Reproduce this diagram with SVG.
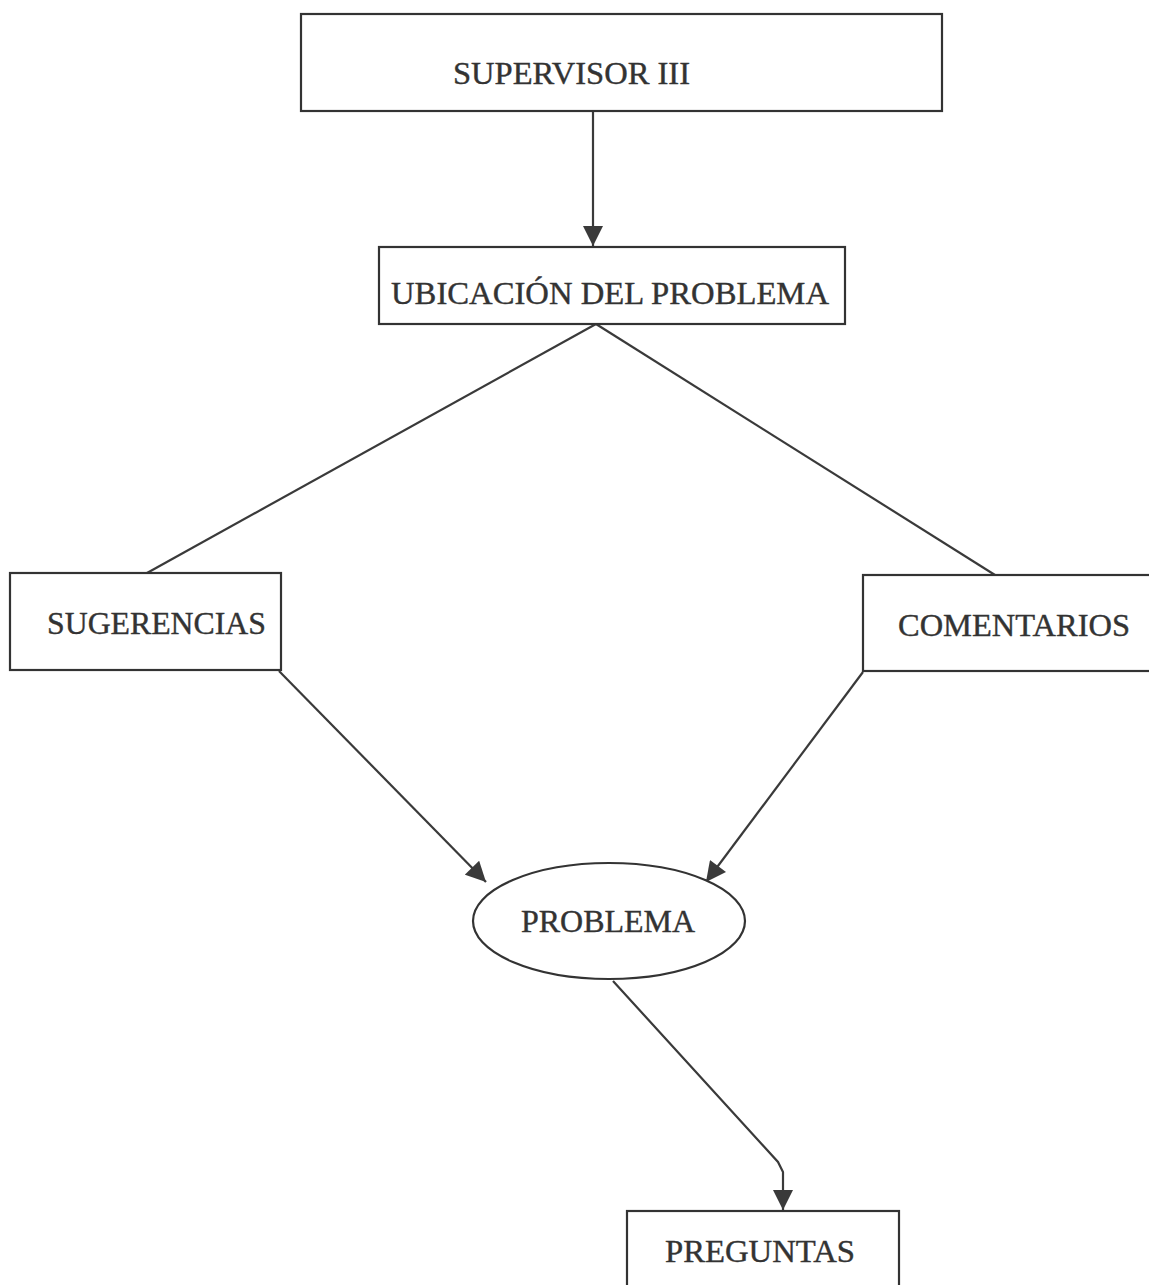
<svg xmlns="http://www.w3.org/2000/svg" width="1149" height="1285" viewBox="0 0 1149 1285">
<style>
.box{fill:#fff;stroke:#333;stroke-width:2.2}
.lbl{font-family:"Liberation Serif","Times New Roman",serif;font-size:32px;fill:#333;stroke:#333;stroke-width:0.4}
.con{fill:none;stroke:#3a3a3a;stroke-width:2.2}
</style>
<defs>
<marker id="ahb" viewBox="0 0 10 10" refX="10" refY="5" markerWidth="22" markerHeight="20" markerUnits="userSpaceOnUse" orient="auto">
<path d="M0,0 L10,5 L0,10 z" fill="#3a3a3a"/>
</marker>
</defs>
<rect width="1149" height="1285" fill="#fff"/>
<g id="connectors">
<line class="con" x1="593" y1="111" x2="593" y2="246" marker-end="url(#ahb)"/>
<line class="con" x1="596" y1="324" x2="147" y2="573"/>
<line class="con" x1="596" y1="324" x2="995" y2="575"/>
<line class="con" x1="279" y1="671" x2="486" y2="882" marker-end="url(#ahb)"/>
<line class="con" x1="863" y1="672" x2="706" y2="882" marker-end="url(#ahb)"/>
<polyline class="con" points="613,981 778,1162 783,1172 783,1210" marker-end="url(#ahb)"/>
</g>
<g id="supervisor">
<rect class="box" x="301" y="14" width="641" height="97"/>
<text class="lbl" x="453" y="84" textLength="237" lengthAdjust="spacingAndGlyphs">SUPERVISOR III</text>
</g>
<g id="ubicacion">
<rect class="box" x="379" y="247" width="466" height="77"/>
<text class="lbl" x="391" y="304" textLength="438" lengthAdjust="spacingAndGlyphs">UBICACIÓN DEL PROBLEMA</text>
</g>
<g id="sugerencias">
<rect class="box" x="10" y="573" width="271" height="97"/>
<text class="lbl" x="47" y="634" textLength="219" lengthAdjust="spacingAndGlyphs">SUGERENCIAS</text>
</g>
<g id="comentarios">
<rect class="box" x="863" y="575" width="300" height="96"/>
<text class="lbl" x="898" y="636" textLength="232" lengthAdjust="spacingAndGlyphs">COMENTARIOS</text>
</g>
<g id="problema">
<ellipse class="box" cx="609" cy="921" rx="136" ry="58"/>
<text class="lbl" x="521" y="932" textLength="174" lengthAdjust="spacingAndGlyphs">PROBLEMA</text>
</g>
<g id="preguntas">
<rect class="box" x="627" y="1211" width="272" height="90"/>
<text class="lbl" x="665" y="1262" textLength="190" lengthAdjust="spacingAndGlyphs">PREGUNTAS</text>
</g>
</svg>
